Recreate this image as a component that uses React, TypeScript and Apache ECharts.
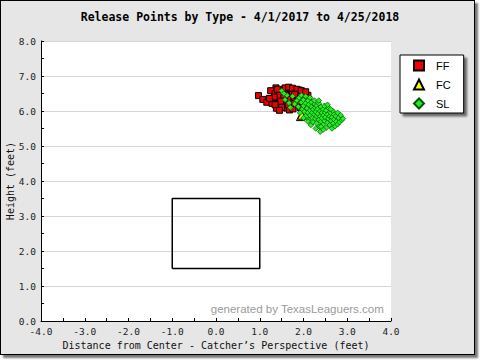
import React, { useEffect, useRef } from "react";
import * as echarts from "echarts";

const titleText = "Release Points by Type - 4/1/2017 to 4/25/2018";
const xAxisName = "Distance from Center - Catcher\u2019s Perspective (feet)";
const yAxisName = "Height (feet)";
const watermark = "generated by TexasLeaguers.com";

const ffPoints: [number, number][] = [
  [0.97, 6.44], [1.07, 6.33], [1.16, 6.25], [1.38, 6.08], [1.37, 6.66], [1.25, 6.58],
  [1.30, 6.30], [1.35, 6.50], [1.40, 6.38], [1.42, 6.22], [1.48, 6.55], [1.50, 6.45],
  [1.52, 6.30], [1.55, 6.62], [1.58, 6.50], [1.60, 6.38], [1.62, 6.25], [1.65, 6.58],
  [1.68, 6.46], [1.70, 6.33], [1.72, 6.60], [1.75, 6.50], [1.78, 6.40], [1.80, 6.28],
  [1.82, 6.55], [1.85, 6.44], [1.88, 6.32], [1.90, 6.60], [1.92, 6.48], [1.95, 6.36],
  [1.98, 6.22], [2.00, 6.50], [2.02, 6.40], [2.05, 6.28], [2.08, 6.15], [2.10, 6.45],
  [2.12, 6.33], [2.15, 6.20], [2.18, 6.08], [1.55, 6.15], [1.62, 6.08], [1.72, 6.15],
  [1.45, 6.45], [1.40, 6.62], [1.33, 6.40], [1.28, 6.22], [1.22, 6.36], [1.58, 6.66],
  [1.66, 6.68], [1.75, 6.65], [1.85, 6.62], [1.95, 6.58], [1.68, 6.03], [1.76, 6.06],
  [1.50, 6.10], [1.45, 6.02], [1.88, 6.18], [1.78, 6.22], [1.99, 6.09], [1.92, 6.10],
  [1.65, 6.18], [1.55, 6.38], [1.48, 6.28], [1.80, 6.48], [2.05, 6.55], [1.35, 6.18],
];

const fcPoints: [number, number][] = [
  [1.93, 5.84], [1.96, 5.88],
];

const slPoints: [number, number][] = [
  [1.50, 6.58], [1.58, 6.32], [1.67, 6.23], [1.75, 6.42], [1.80, 6.20], [1.85, 6.30],
  [1.88, 6.12], [1.90, 6.38], [1.92, 5.95], [1.95, 6.25], [1.97, 6.05], [2.00, 6.32],
  [2.00, 6.15], [2.02, 5.98], [2.05, 6.22], [2.05, 5.85], [2.08, 6.08], [2.10, 6.30],
  [2.10, 5.95], [2.12, 6.18], [2.12, 5.75], [2.15, 6.02], [2.15, 5.88], [2.17, 5.60],
  [2.18, 6.25], [2.18, 6.12], [2.20, 5.95], [2.20, 5.80], [2.22, 6.05], [2.22, 5.68],
  [2.25, 6.20], [2.25, 5.90], [2.27, 6.10], [2.27, 5.78], [2.28, 5.98], [2.30, 6.15],
  [2.30, 5.85], [2.30, 5.65], [2.32, 6.05], [2.33, 5.92], [2.35, 6.22], [2.35, 5.75],
  [2.36, 5.55], [2.38, 5.41], [2.38, 6.00], [2.38, 5.85], [2.40, 6.12], [2.40, 5.70],
  [2.42, 5.95], [2.42, 5.80], [2.45, 6.05], [2.45, 5.62], [2.46, 5.88], [2.48, 5.72],
  [2.48, 6.15], [2.50, 5.95], [2.50, 5.82], [2.52, 5.52], [2.52, 6.02], [2.55, 5.68],
  [2.55, 5.90], [2.57, 5.78], [2.58, 6.08], [2.60, 5.85], [2.60, 5.60], [2.62, 5.95],
  [2.63, 5.72], [2.65, 5.82], [2.65, 5.50], [2.67, 6.00], [2.68, 5.65], [2.70, 5.90],
  [2.70, 5.76], [2.72, 5.56], [2.74, 5.85], [2.75, 5.70], [2.78, 5.95], [2.78, 5.62],
  [2.80, 5.80], [2.82, 5.68], [2.85, 5.88], [2.87, 5.74], [2.90, 5.78], [2.28, 5.50],
  [2.45, 5.47], [2.10, 5.70], [2.00, 5.80], [1.95, 6.45], [2.05, 6.42], [2.15, 6.38],
  [2.25, 6.30], [2.35, 6.30], [2.55, 6.18], [2.62, 6.05], [1.70, 6.10], [1.62, 6.45],
  [1.55, 6.50], [2.40, 5.55],
];

const zoneX = [-1, 1, 1, -1, -1];
const zoneY = [1.5, 1.5, 3.5, 3.5, 1.5];

const tickFont = "DejaVu Sans Mono";

export default function App() {
  const ref = useRef<HTMLDivElement>(null);
  useEffect(() => {
    if (!ref.current) return;
    const chart = echarts.init(ref.current, null, { renderer: "svg" });
    const zone = zoneX.map((x, i) => [x, zoneY[i]]);
    chart.setOption({
      animation: false,
      backgroundColor: "transparent",
      title: {
        text: titleText,
        left: "center",
        top: 6,
        textStyle: { fontFamily: tickFont, fontWeight: "bold", fontSize: 11.5, color: "#000" },
      },
      grid: {
        left: 41, right: 89, top: 41, bottom: 39,
        containLabel: false,
        outerBoundsMode: "none",
        show: true, backgroundColor: "#ffffff", borderWidth: 0,
      },
      legend: {
        data: ["FF", "FC", "SL"],
        orient: "vertical",
        left: 400,
        top: 55,
        padding: [4, 13, 3, 13],
        itemGap: 6,
        itemWidth: 10,
        itemHeight: 10,
        backgroundColor: "#ffffff",
        borderColor: "#000",
        borderWidth: 1,
        borderRadius: 0,
        shadowColor: "rgba(0,0,0,0.55)",
        shadowOffsetX: 3,
        shadowOffsetY: 3,
        shadowBlur: 2,
        textStyle: { fontFamily: "Liberation Sans", fontSize: 11, color: "#000", lineHeight: 13, padding: [0, 0, 0, 7] },
      },
      xAxis: {
        type: "value",
        min: -4, max: 4, interval: 1,
        name: xAxisName,
        nameLocation: "middle",
        nameGap: 19,
        nameMoveOverlap: false,
        nameTextStyle: { fontFamily: tickFont, fontSize: 10, color: "#111" },
        axisLine: { onZero: false, lineStyle: { color: "#000", width: 1 } },
        axisTick: { inside: true, length: 3, lineStyle: { color: "#000" } },
        minorTick: { show: true, splitNumber: 2, length: 3, lineStyle: { color: "#000" } },
        axisLabel: {
          formatter: (v: number) => v.toFixed(1),
          fontFamily: tickFont, fontSize: 9.5, color: "#222", margin: 5,
        },
        splitLine: { show: false },
      },
      yAxis: {
        type: "value",
        min: 0, max: 8, interval: 1,
        name: yAxisName,
        nameLocation: "middle",
        nameGap: 26,
        nameMoveOverlap: false,
        nameRotate: 90,
        nameTextStyle: { fontFamily: tickFont, fontSize: 10, color: "#111" },
        axisLine: { show: true, onZero: false, lineStyle: { color: "#000", width: 1 } },
        axisTick: { inside: true, length: 3, lineStyle: { color: "#000" } },
        minorTick: { show: true, splitNumber: 2, length: 3, lineStyle: { color: "#000" } },
        axisLabel: {
          formatter: (v: number) => v.toFixed(1),
          fontFamily: tickFont, fontSize: 9.5, color: "#222", margin: 5,
        },
        splitLine: { show: true, lineStyle: { color: "#d6d6d6", width: 1 } },
      },
      graphic: [
        {
          type: "text",
          right: 480 - 384,
          top: 303,
          style: { text: watermark, fontFamily: "Liberation Sans", fontSize: 11.5, fill: "#9a9a9a" },
          z: 10,
        },
      ],
      series: [
        {
          name: "zone",
          type: "line",
          data: zone,
          symbol: "none",
          lineStyle: { color: "#000", width: 1.5 },
          silent: true,
        },
        {
          name: "FF",
          type: "scatter",
          data: ffPoints,
          symbol: "rect",
          symbolSize: 6,
          itemStyle: { color: "#ee0000", borderColor: "#000", borderWidth: 1, opacity: 1 },
        },
        {
          name: "FC",
          type: "scatter",
          data: fcPoints,
          symbol: "triangle",
          symbolSize: 8,
          itemStyle: { color: "#ffff00", borderColor: "#000", borderWidth: 1, opacity: 1 },
        },
        {
          name: "SL",
          type: "scatter",
          data: slPoints,
          symbol: "diamond",
          symbolSize: 5.5,
          itemStyle: { color: "#22ee22", borderColor: "#005500", borderWidth: 0.7, opacity: 1 },
        },
      ],
    });
    return () => chart.dispose();
  }, []);
  return (
    <div style={{ position: "absolute", left: 0, top: 0, width: 480, height: 360, background: "#fff" }}>
      <div
        style={{
          position: "absolute", left: 0, top: 0, width: 473, height: 353,
          border: "1px solid #000", background: "#e6e6e6",
          boxShadow: "3px 3px 2px #777",
        }}
      />
      <div ref={ref} style={{ position: "absolute", left: 0, top: 0, width: 480, height: 360 }} />
    </div>
  );
}
